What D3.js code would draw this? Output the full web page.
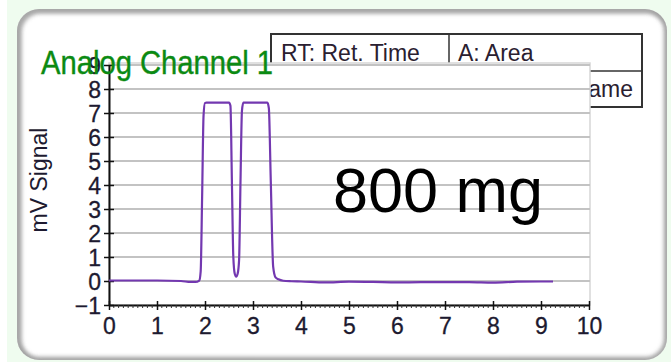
<!DOCTYPE html>
<html>
<head>
<meta charset="utf-8">
<script src="https://cdn.jsdelivr.net/npm/d3@7"></script>
<style>
  html, body { margin: 0; padding: 0; background: #effcef; }
  svg { display: block; font-family: "Liberation Sans", Arial, sans-serif; }
</style>
</head>
<body>
<svg id="chart" width="671" height="362"></svg>
<script>
// Chromatogram trace: retention time (min) vs detector signal (mV)
const time = [0, 0.5, 1.0, 1.5, 1.7, 1.8, 1.88, 1.91, 1.94, 1.97, 2.0, 2.03,
  2.5, 2.53, 2.56, 2.59, 2.62, 2.65, 2.68, 2.71, 2.74, 2.77, 2.8,
  3.3, 3.33, 3.37, 3.42, 3.47, 3.53, 3.63, 3.8, 4.0, 4.5, 5.0, 5.5, 6.0,
  6.5, 7.0, 7.5, 8.0, 8.5, 9.0, 9.25];
const signal = [0.02, 0.02, 0.02, 0.0, -0.04, -0.04, 0.02, 0.4, 3.5, 6.9, 7.42, 7.43,
  7.43, 7.3, 4.2, 1.0, 0.3, 0.18, 0.3, 0.87, 4.2, 7.1, 7.43,
  7.43, 7.2, 4.2, 0.6, 0.15, 0.07, 0.01, -0.01, -0.02, -0.06, -0.03, -0.04, -0.06,
  -0.05, -0.05, -0.05, -0.07, -0.03, -0.02, -0.02];

const xTicks = [0, 1, 2, 3, 4, 5, 6, 7, 8, 9, 10];
const yTicks = [-1, 0, 1, 2, 3, 4, 5, 6, 7, 8, 9];
const legendCells = ["RT: Ret. Time", "A: Area", "PN: Peak Name"];
const titleText = "Analog Channel 1";
const yLabel = "mV Signal";
const noteText = "800 mg";

const svg = d3.select("#chart");
const defs = svg.append("defs");

// soft bevel for the outer card
const blur = defs.append("filter").attr("id", "bevel")
  .attr("x", "-5%").attr("y", "-5%").attr("width", "110%").attr("height", "110%");
blur.append("feGaussianBlur").attr("stdDeviation", 2.2);
defs.append("clipPath").attr("id", "cardClip")
  .append("rect").attr("x", 17).attr("y", 9).attr("width", 650).attr("height", 351)
  .attr("rx", 22).attr("ry", 22);

svg.append("rect").attr("x", 0).attr("y", 0).attr("width", 7).attr("height", 362).attr("fill", "#ffffff");

// card
svg.append("rect").attr("x", 17).attr("y", 9).attr("width", 650).attr("height", 351)
  .attr("rx", 22).attr("ry", 22).attr("fill", "#ffffff");
const bev = svg.append("g").attr("clip-path", "url(#cardClip)");
bev.append("rect").attr("x", 17).attr("y", 9).attr("width", 650).attr("height", 351)
  .attr("rx", 22).attr("ry", 22).attr("fill", "none")
  .attr("stroke", "#a9a9a9").attr("stroke-width", 6).attr("filter", "url(#bevel)");
bev.append("rect").attr("x", 19).attr("y", 11).attr("width", 650).attr("height", 351)
  .attr("rx", 22).attr("ry", 22).attr("fill", "none")
  .attr("stroke", "#8f8f8f").attr("stroke-width", 5).attr("filter", "url(#bevel)")
  .attr("opacity", 0.6);

const x = d3.scaleLinear().domain([0, 10]).range([109, 589]);
const y = d3.scaleLinear().domain([-1, 9]).range([305, 65]);

const ink = "#1d1a30";

// legend table behind the plot panel
const lg = svg.append("g");
lg.append("rect").attr("x", 271).attr("y", 34).attr("width", 371).attr("height", 73)
  .attr("fill", "#ffffff").attr("stroke", "#333333").attr("stroke-width", 2);
lg.append("line").attr("x1", 449).attr("x2", 449).attr("y1", 34).attr("y2", 107)
  .attr("stroke", "#333333").attr("stroke-width", 1.5);
lg.append("line").attr("x1", 271).attr("x2", 642).attr("y1", 71).attr("y2", 71)
  .attr("stroke", "#333333").attr("stroke-width", 1.5);
lg.append("text").attr("x", 281).attr("y", 61).attr("font-size", 23).attr("fill", "#2a2030").text(legendCells[0]);
lg.append("text").attr("x", 458).attr("y", 61).attr("font-size", 23).attr("fill", "#2a2030").text(legendCells[1]);
lg.append("text").attr("x", 633).attr("y", 97).attr("font-size", 23).attr("text-anchor", "end")
  .attr("fill", "#2a2030").text(legendCells[2]);

// plot panel
svg.append("rect").attr("x", x(0)).attr("y", 63).attr("width", 481).attr("height", 242)
  .attr("fill", "#ffffff").attr("stroke", "#d6d6d6").attr("stroke-width", 1.5);

// horizontal grid
svg.append("g").selectAll("line").data(yTicks.filter(d => d > -1)).join("line")
  .attr("x1", x(0)).attr("x2", 590)
  .attr("y1", d => y(d)).attr("y2", d => y(d))
  .attr("stroke", "#c3c3c3").attr("stroke-width", 2);

// axes
const xAxis = d3.axisBottom(x).tickValues(xTicks).tickFormat(d3.format("d")).tickSize(5).tickSizeOuter(0);
const gx = svg.append("g").attr("transform", `translate(0,${y(-1)})`).call(xAxis);
gx.select(".domain").attr("stroke", "#111").attr("stroke-width", 2);
gx.selectAll(".tick line").attr("stroke", "#111").attr("stroke-width", 1.5).attr("y1", -4).attr("y2", 5);
gx.selectAll(".tick text").attr("font-size", 23).attr("fill", ink)
  .attr("stroke", ink).attr("stroke-width", 0.3)
  .attr("font-family", "'Liberation Sans', Arial, sans-serif").attr("dy", null).attr("y", 28.5);

// minor ticks along the time axis
const minor = d3.range(0, 100).map(i => i / 10).filter(v => Math.abs(v - Math.round(v)) > 1e-6);
svg.append("g").selectAll("line").data(minor).join("line")
  .attr("x1", d => x(d)).attr("x2", d => x(d))
  .attr("y1", y(-1)).attr("y2", y(-1) + 3)
  .attr("stroke", "#333").attr("stroke-width", 1);

const yAxis = d3.axisLeft(y).tickValues(yTicks).tickFormat(d3.format("d")).tickSize(5).tickSizeOuter(0);
const gy = svg.append("g").attr("transform", `translate(${x(0)},0)`).call(yAxis);
gy.select(".domain").attr("stroke", "#111").attr("stroke-width", 2);
gy.selectAll(".tick line").attr("stroke", "#111").attr("stroke-width", 1.5).attr("x1", 5).attr("x2", -5);
gy.selectAll(".tick text").attr("font-size", 23).attr("fill", ink)
  .attr("stroke", ink).attr("stroke-width", 0.3)
  .attr("font-family", "'Liberation Sans', Arial, sans-serif").attr("x", -8).attr("dy", "0.35em");

// y-axis title
svg.append("text").attr("transform", "translate(47,180) rotate(-90)")
  .attr("text-anchor", "middle").attr("font-size", 23).attr("fill", ink).text(yLabel);

// trace
const line = d3.line().x((d, i) => x(time[i])).y(d => y(d)).curve(d3.curveMonotoneX);
svg.append("path").datum(signal).attr("d", line)
  .attr("fill", "none").attr("stroke", "#7338b0").attr("stroke-width", 2.2)
  .attr("stroke-linejoin", "round");

// sample annotation
svg.append("text").attr("x", 333).attr("y", 212).attr("font-size", 63)
  .attr("fill", "#000").text(noteText);

// chart title on top
svg.append("text").attr("x", 41).attr("y", 74).attr("font-size", 34)
  .attr("textLength", 232).attr("lengthAdjust", "spacingAndGlyphs")
  .attr("fill", "#0b8a12").attr("stroke", "#0b8a12").attr("stroke-width", 0.4)
  .text(titleText);
</script>
</body>
</html>
